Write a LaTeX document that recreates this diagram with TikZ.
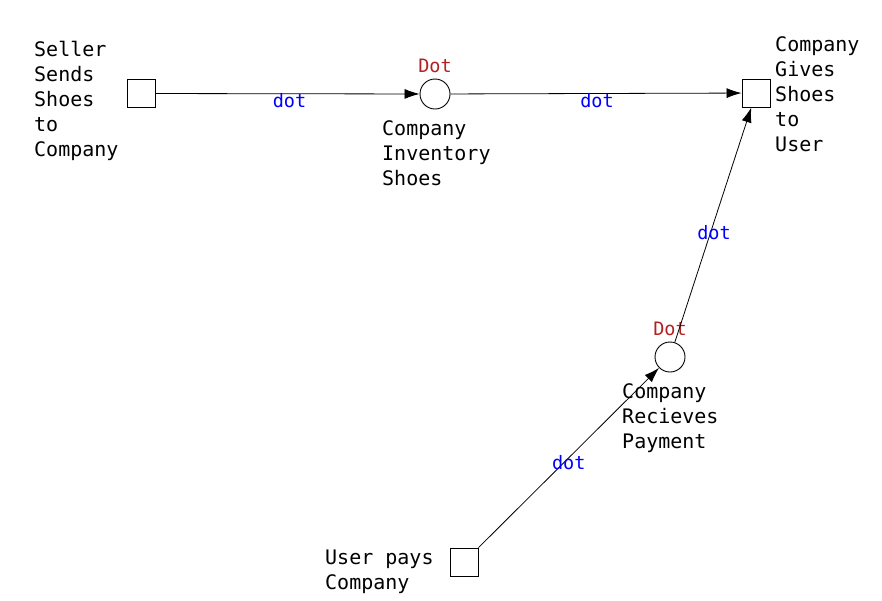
\documentclass[tikz,border=0pt]{standalone}
\usepackage{fontspec}
\setmainfont{DejaVu Sans Mono}
\usetikzlibrary{arrows.meta}
\definecolor{dotred}{RGB}{178,34,34}
\definecolor{dotblue}{RGB}{0,0,255}
\tikzset{
  trans/.style={draw, line width=0.9pt, minimum size=28pt, inner sep=0pt, fill=white},
  place/.style={draw, circle, line width=0.9pt, minimum size=30pt, inner sep=0pt, fill=white},
  txt/.style={anchor=base west, inner sep=0pt, align=left, font=\fontsize{20pt}{25pt}\selectfont},
  toklabel/.style={anchor=base, inner sep=0pt, text=dotred, font=\fontsize{18.5pt}{22pt}\selectfont},
  elabel/.style={anchor=base, inner sep=0pt, text=dotblue, font=\fontsize{18.5pt}{22pt}\selectfont},
  arc/.style={line width=0.8pt, -{Latex[length=15pt,width=10pt]}}
}
\begin{document}
\begin{tikzpicture}[x=1pt,y=-1pt]
\useasboundingbox (0,0) rectangle (882,600);
% nodes
\node[trans] (t1) at (141,93.5) {};
\node[place] (p1) at (435,94) {};
\node[trans] (t2) at (756,93) {};
\node[place] (p2) at (670,357) {};
\node[trans] (t3) at (464,562) {};
% labels (anchor = baseline of last line)
\node[txt] (lt1) at (34,156) {Seller\\Sends\\Shoes\\to\\Company};
\node[txt] (lp1) at (382,185) {Company\\Inventory\\Shoes};
\node[txt] (lt2) at (775,151) {Company\\Gives\\Shoes\\to\\User};
\node[txt] (lp2) at (622,448) {Company\\Recieves\\Payment};
\node[txt] (lt3) at (325,589) {User pays\\Company};
\node[toklabel] (d1) at (435,72) {Dot};
\node[toklabel] (d2) at (670,335) {Dot};
% arcs
\draw[arc] (t1) -- node[elabel, midway, xshift=2pt, yshift=-14pt] {dot} (p1);
\draw[arc] (p1) -- node[elabel, midway, xshift=1pt, yshift=-14pt] {dot} (t2);
\draw[arc] (t3) -- node[elabel, midway, yshift=-12pt] {dot} (p2);
\draw[arc] (p2) -- node[elabel, midway, xshift=1pt, yshift=-15pt] {dot} (t2);
\end{tikzpicture}
\end{document}
